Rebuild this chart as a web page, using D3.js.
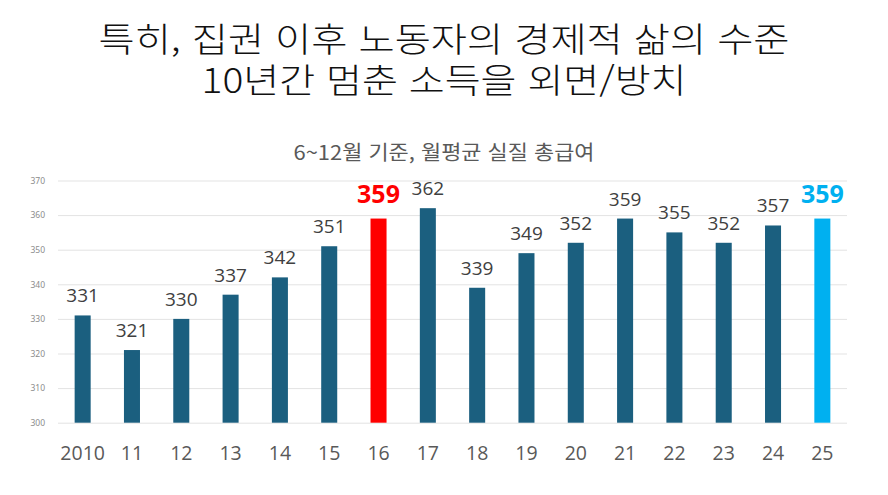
<!DOCTYPE html>
<html lang="ko">
<head>
<meta charset="utf-8">
<style>
  body { margin: 0; background: #fff; }
  text { font-family: "Noto Sans CJK KR", "Noto Sans", sans-serif; }
</style>
</head>
<body>
<script src="https://d3js.org/d3.v7.min.js"></script>
<script>
  const years = ["2010", "11", "12", "13", "14", "15", "16", "17", "18", "19", "20", "21", "22", "23", "24", "25"];
  const wages = [331, 321, 330, 337, 342, 351, 359, 362, 339, 349, 352, 359, 355, 352, 357, 359];
  const yTicks = [300, 310, 320, 330, 340, 350, 360, 370];
  const titleLines = ["특히, 집권 이후 노동자의 경제적 삶의 수준", "10년간 멈춘 소득을 외면/방치"];
  const subtitle = "6~12월 기준, 월평균 실질 총급여";

  const width = 888, height = 495;
  const plotLeft = 58, plotRight = 847, plotTop = 180.5, plotBottom = 422.7;

  const svg = d3.select("body").append("svg")
    .attr("width", width)
    .attr("height", height);

  // the original font is wider than Noto, so stretch to the measured widths
  const titleWidths = [691, 485];
  svg.selectAll("text.title")
    .data(titleLines)
    .enter()
    .append("text")
    .attr("class", "title")
    .attr("x", width / 2)
    .attr("y", (d, i) => 52 + i * 41)
    .attr("text-anchor", "middle")
    .attr("font-size", 34)
    .attr("font-weight", 300)
    .attr("textLength", (d, i) => titleWidths[i])
    .attr("lengthAdjust", "spacingAndGlyphs")
    .attr("fill", "#111")
    .text(d => d);

  svg.append("text")
    .attr("x", width / 2)
    .attr("y", 160)
    .attr("text-anchor", "middle")
    .attr("font-size", 20)
    .attr("textLength", 301)
    .attr("lengthAdjust", "spacingAndGlyphs")
    .attr("fill", "#595959")
    .text(subtitle);

  const x = d3.scaleBand()
    .domain(years)
    .range([plotLeft, plotRight])
    .paddingInner(0.675)
    .paddingOuter(0.3375);

  const y = d3.scaleLinear()
    .domain([300, 370])
    .range([plotBottom, plotTop]);

  // grid lines + small y labels
  const yAxis = svg.append("g")
    .attr("transform", "translate(" + plotLeft + ",0)")
    .call(d3.axisLeft(y).tickValues(yTicks).tickSize(-(plotRight - plotLeft)).tickPadding(13));
  yAxis.select(".domain").remove();
  yAxis.selectAll(".tick line").attr("stroke", "#e3e3e3");
  yAxis.selectAll(".tick text")
    .attr("font-size", 8.5)
    .attr("fill", "#8c8c8c")
    .style("font-family", "'Noto Sans', sans-serif");

  function barColor(d, i) {
    if (years[i] == "16") return "#ff0000";
    if (years[i] == "25") return "#00b0f0";
    return "#1b5f7f";
  }
  const isHot = i => years[i] == "16" || years[i] == "25";

  svg.selectAll("rect.bar")
    .data(wages)
    .enter()
    .append("rect")
    .attr("class", "bar")
    .attr("x", (d, i) => x(years[i]))
    .attr("y", d => y(d))
    .attr("width", x.bandwidth())
    .attr("height", d => plotBottom - y(d))
    .attr("fill", barColor);

  svg.selectAll("text.val")
    .data(wages)
    .enter()
    .append("text")
    .attr("class", "val")
    .attr("x", (d, i) => x(years[i]) + x.bandwidth() / 2)
    .attr("y", (d, i) => y(d) - (isHot(i) ? 16 : 13))
    .attr("text-anchor", "middle")
    .attr("font-size", (d, i) => isHot(i) ? 25 : 19)
    .attr("font-weight", (d, i) => isHot(i) ? "bold" : "normal")
    .attr("fill", (d, i) => isHot(i) ? barColor(d, i) : "#404040")
    .style("font-family", "'Open Sans', 'Noto Sans', sans-serif")
    .text(d => d);

  svg.selectAll("text.year")
    .data(years)
    .enter()
    .append("text")
    .attr("class", "year")
    .attr("x", d => x(d) + x.bandwidth() / 2)
    .attr("y", 460)
    .attr("text-anchor", "middle")
    .attr("font-size", 19.5)
    .attr("fill", "#595959")
    .style("font-family", "'Open Sans', 'Noto Sans', sans-serif")
    .text(d => d);
</script>
</body>
</html>
